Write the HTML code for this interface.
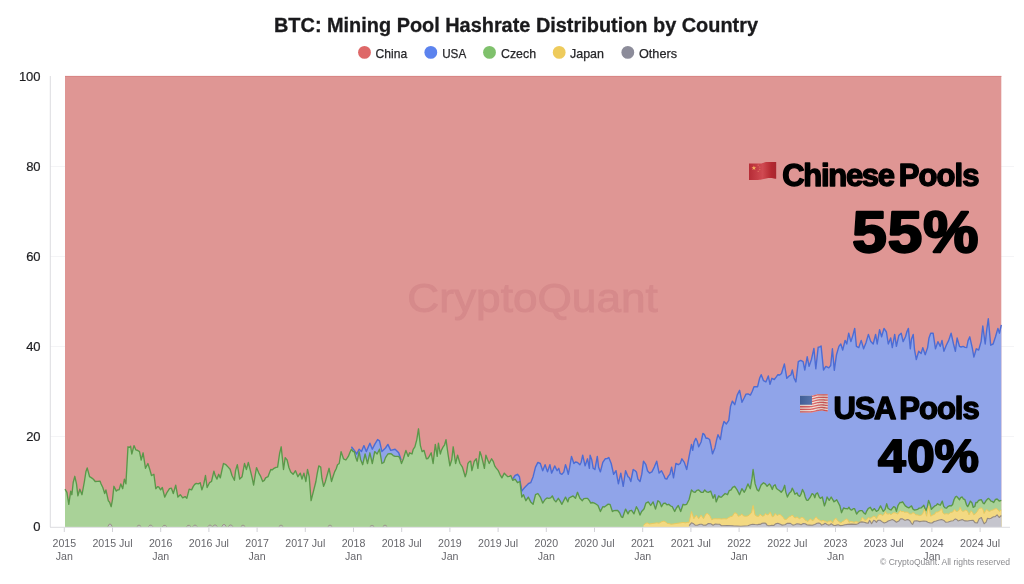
<!DOCTYPE html>
<html lang="en"><head><meta charset="utf-8"><title>BTC: Mining Pool Hashrate Distribution by Country</title>
<style>
html,body{margin:0;padding:0;background:#fff;}
body{width:1024px;height:584px;overflow:hidden;position:relative;font-family:"Liberation Sans",sans-serif;}
svg{position:absolute;left:0;top:0;display:block;}
text{font-family:"Liberation Sans",sans-serif;}
.title{font-weight:700;font-size:19.6px;fill:#1a1a1c;stroke:#1a1a1c;stroke-width:0.3px;}
.leg text{font-size:12.6px;fill:#262629;stroke:#262629;stroke-width:0.25px;}
.yl text{font-size:13px;fill:#1d1d20;stroke:#1d1d20;stroke-width:0.2px;}
.xl text{font-size:10.6px;fill:#66666b;}
.big{font-weight:700;fill:#000;stroke:#000;stroke-linejoin:round;}
</style></head><body>
<svg width="1024" height="584" viewBox="0 0 1024 584">
<rect width="1024" height="584" fill="#ffffff"/>
<text class="title" x="516" y="32.2" text-anchor="middle" textLength="484" lengthAdjust="spacingAndGlyphs">BTC: Mining Pool Hashrate Distribution by Country</text>
<g class="leg">
<circle cx="364.5" cy="52.4" r="6.4" fill="#de6868"/><text x="375.6" y="58" textLength="31.6" lengthAdjust="spacingAndGlyphs">China</text>
<circle cx="430.8" cy="52.4" r="6.4" fill="#5c83ee"/><text x="442.2" y="58" textLength="24" lengthAdjust="spacingAndGlyphs">USA</text>
<circle cx="489.5" cy="52.4" r="6.4" fill="#7fc16c"/><text x="501" y="58" textLength="35" lengthAdjust="spacingAndGlyphs">Czech</text>
<circle cx="559.2" cy="52.4" r="6.4" fill="#eecb5c"/><text x="570" y="58" textLength="34" lengthAdjust="spacingAndGlyphs">Japan</text>
<circle cx="627.8" cy="52.4" r="6.4" fill="#8c8c9a"/><text x="639" y="58" textLength="38" lengthAdjust="spacingAndGlyphs">Others</text>
</g>
<line x1="50" y1="436.5" x2="1014" y2="436.5" stroke="#f4f4f6" stroke-width="1"/><line x1="50" y1="346.5" x2="1014" y2="346.5" stroke="#f4f4f6" stroke-width="1"/><line x1="50" y1="256.5" x2="1014" y2="256.5" stroke="#f4f4f6" stroke-width="1"/><line x1="50" y1="166.5" x2="1014" y2="166.5" stroke="#f4f4f6" stroke-width="1"/>
<line x1="50.3" y1="76" x2="50.3" y2="527" stroke="#dcdce0" stroke-width="1"/>
<line x1="64.3" y1="527" x2="64.3" y2="532" stroke="#d2d2d7" stroke-width="1"/><line x1="112.5" y1="527" x2="112.5" y2="532" stroke="#d2d2d7" stroke-width="1"/><line x1="160.7" y1="527" x2="160.7" y2="532" stroke="#d2d2d7" stroke-width="1"/><line x1="208.9" y1="527" x2="208.9" y2="532" stroke="#d2d2d7" stroke-width="1"/><line x1="257.1" y1="527" x2="257.1" y2="532" stroke="#d2d2d7" stroke-width="1"/><line x1="305.3" y1="527" x2="305.3" y2="532" stroke="#d2d2d7" stroke-width="1"/><line x1="353.5" y1="527" x2="353.5" y2="532" stroke="#d2d2d7" stroke-width="1"/><line x1="401.7" y1="527" x2="401.7" y2="532" stroke="#d2d2d7" stroke-width="1"/><line x1="449.9" y1="527" x2="449.9" y2="532" stroke="#d2d2d7" stroke-width="1"/><line x1="498.1" y1="527" x2="498.1" y2="532" stroke="#d2d2d7" stroke-width="1"/><line x1="546.3" y1="527" x2="546.3" y2="532" stroke="#d2d2d7" stroke-width="1"/><line x1="594.5" y1="527" x2="594.5" y2="532" stroke="#d2d2d7" stroke-width="1"/><line x1="642.7" y1="527" x2="642.7" y2="532" stroke="#d2d2d7" stroke-width="1"/><line x1="690.9" y1="527" x2="690.9" y2="532" stroke="#d2d2d7" stroke-width="1"/><line x1="739.1" y1="527" x2="739.1" y2="532" stroke="#d2d2d7" stroke-width="1"/><line x1="787.3" y1="527" x2="787.3" y2="532" stroke="#d2d2d7" stroke-width="1"/><line x1="835.5" y1="527" x2="835.5" y2="532" stroke="#d2d2d7" stroke-width="1"/><line x1="883.7" y1="527" x2="883.7" y2="532" stroke="#d2d2d7" stroke-width="1"/><line x1="931.9" y1="527" x2="931.9" y2="532" stroke="#d2d2d7" stroke-width="1"/><line x1="980.1" y1="527" x2="980.1" y2="532" stroke="#d2d2d7" stroke-width="1"/>
<g class="yl"><text x="40.6" y="530.5" text-anchor="end">0</text><text x="40.6" y="440.5" text-anchor="end">20</text><text x="40.6" y="350.5" text-anchor="end">40</text><text x="40.6" y="260.5" text-anchor="end">60</text><text x="40.6" y="170.5" text-anchor="end">80</text><text x="40.6" y="80.5" text-anchor="end">100</text></g>
<g class="xl"><text x="64.3" y="547.3" text-anchor="middle">2015</text><text x="64.3" y="560.1" text-anchor="middle">Jan</text><text x="112.5" y="547.3" text-anchor="middle">2015 Jul</text><text x="160.7" y="547.3" text-anchor="middle">2016</text><text x="160.7" y="560.1" text-anchor="middle">Jan</text><text x="208.9" y="547.3" text-anchor="middle">2016 Jul</text><text x="257.1" y="547.3" text-anchor="middle">2017</text><text x="257.1" y="560.1" text-anchor="middle">Jan</text><text x="305.3" y="547.3" text-anchor="middle">2017 Jul</text><text x="353.5" y="547.3" text-anchor="middle">2018</text><text x="353.5" y="560.1" text-anchor="middle">Jan</text><text x="401.7" y="547.3" text-anchor="middle">2018 Jul</text><text x="449.9" y="547.3" text-anchor="middle">2019</text><text x="449.9" y="560.1" text-anchor="middle">Jan</text><text x="498.1" y="547.3" text-anchor="middle">2019 Jul</text><text x="546.3" y="547.3" text-anchor="middle">2020</text><text x="546.3" y="560.1" text-anchor="middle">Jan</text><text x="594.5" y="547.3" text-anchor="middle">2020 Jul</text><text x="642.7" y="547.3" text-anchor="middle">2021</text><text x="642.7" y="560.1" text-anchor="middle">Jan</text><text x="690.9" y="547.3" text-anchor="middle">2021 Jul</text><text x="739.1" y="547.3" text-anchor="middle">2022</text><text x="739.1" y="560.1" text-anchor="middle">Jan</text><text x="787.3" y="547.3" text-anchor="middle">2022 Jul</text><text x="835.5" y="547.3" text-anchor="middle">2023</text><text x="835.5" y="560.1" text-anchor="middle">Jan</text><text x="883.7" y="547.3" text-anchor="middle">2023 Jul</text><text x="931.9" y="547.3" text-anchor="middle">2024</text><text x="931.9" y="560.1" text-anchor="middle">Jan</text><text x="980.1" y="547.3" text-anchor="middle">2024 Jul</text></g>
<!-- plot -->
<rect x="65" y="76" width="936.3" height="451" fill="#df9694"/>
<line x1="65" y1="76.4" x2="1001.3" y2="76.4" stroke="#d78583" stroke-width="1"/>
<text x="532.6" y="311.5" text-anchor="middle" font-size="40" fill="#d68a8b" stroke="#d68a8b" stroke-width="0.9" textLength="250.5" lengthAdjust="spacingAndGlyphs">CryptoQuant</text>
<path d="M351.4,446.8 L354.3,450.4 L356.7,454.0 L359.1,449.2 L361.5,451.6 L363.9,445.6 L366.3,451.6 L369.9,443.2 L372.3,449.2 L374.7,444.4 L377.6,439.6 L379.5,440.8 L381.9,451.6 L385.5,448.0 L387.9,444.4 L390.7,450.4 L395.1,449.2 L398.7,452.8 L401.1,460.0 L401.1,462.0 L399.9,458.3 L398.7,456.4 L396.6,456.3 L395.1,456.4 L393.2,455.6 L391.5,454.0 L389.9,453.6 L387.9,454.0 L385.5,457.6 L383.8,462.5 L381.9,463.5 L379.5,449.2 L377.1,454.0 L374.7,451.6 L372.3,463.5 L369.9,452.8 L367.5,463.5 L365.1,454.0 L362.7,464.7 L360.6,459.5 L359.1,451.6 L357.2,461.2 L355.7,457.2 L354.3,451.6 L353.1,451.5 L351.4,449.2 L351.4,449.2 Z" fill="#90a4e9"/>
<path d="M351.4,446.8 L354.3,450.4 L356.7,454.0 L359.1,449.2 L361.5,451.6 L363.9,445.6 L366.3,451.6 L369.9,443.2 L372.3,449.2 L374.7,444.4 L377.6,439.6 L379.5,440.8 L381.9,451.6 L385.5,448.0 L387.9,444.4 L390.7,450.4 L395.1,449.2 L398.7,452.8 L401.1,460.0" fill="none" stroke="#4c6cd4" stroke-width="1.4" stroke-linejoin="round"/>
<path d="M512.7,479.1 L515.1,475.5 L517.5,474.3 L519.4,476.7 L521.8,491.1 L523.3,489.1 L524.7,487.5 L527.1,485.1 L528.6,483.5 L530.7,482.7 L533.1,476.7 L535.5,467.1 L537.9,462.4 L540.3,463.5 L542.7,470.7 L545.1,464.7 L547.5,471.9 L549.9,464.7 L551.6,473.1 L553.2,469.6 L554.7,465.9 L557.1,470.7 L558.8,468.3 L560.1,473.4 L561.9,474.3 L563.8,472.1 L565.5,464.7 L566.7,468.3 L568.3,474.3 L569.6,467.7 L571.5,456.4 L573.9,463.5 L575.5,462.0 L577.5,462.4 L579.9,464.7 L581.2,462.2 L582.7,455.2 L585.1,465.9 L587.5,458.8 L589.4,468.3 L590.1,455.2 L591.8,460.1 L593.2,468.3 L594.9,469.5 L597.3,456.4 L598.6,467.3 L600.4,471.9 L602.8,462.4 L605.2,458.8 L607.0,458.6 L608.8,457.6 L611.2,463.5 L613.6,474.3 L616.0,470.7 L618.4,483.9 L620.8,473.1 L623.2,486.3 L625.6,470.7 L628.0,476.7 L629.2,477.5 L630.8,481.5 L633.2,469.5 L634.9,470.5 L636.4,471.9 L637.9,479.1 L640.0,481.5 L641.8,474.2 L643.5,461.2 L645.9,464.7 L647.5,470.7 L649.5,473.1 L651.9,471.9 L654.3,467.1 L656.7,461.2 L659.1,473.1 L661.5,470.7 L663.9,475.5 L665.1,478.5 L666.8,479.1 L668.3,476.1 L669.9,474.3 L671.6,467.1 L673.5,477.9 L675.9,463.5 L678.3,464.7 L680.2,463.5 L681.9,458.8 L684.3,462.4 L686.7,469.5 L689.1,456.4 L691.5,444.4 L692.7,450.4 L694.1,442.0 L695.8,438.4 L697.3,441.3 L698.7,446.8 L701.1,442.0 L702.9,433.5 L703.5,433.6 L704.5,434.7 L706.0,438.3 L707.5,438.2 L709.6,439.5 L710.9,445.3 L712.5,453.9 L714.9,447.9 L716.6,439.9 L718.0,434.7 L720.4,439.5 L722.2,427.8 L724.0,421.5 L726.4,423.9 L728.8,420.3 L730.5,406.4 L732.4,401.1 L734.8,404.7 L737.2,395.1 L739.6,390.3 L742.0,402.3 L744.4,397.5 L746.0,394.1 L748.0,393.9 L750.4,395.1 L752.3,391.2 L754.0,386.7 L755.6,386.7 L757.6,386.7 L759.6,378.3 L761.2,374.7 L763.5,380.7 L765.9,381.9 L768.3,375.9 L770.0,384.3 L771.9,378.3 L774.3,379.5 L776.3,376.9 L777.9,374.7 L779.7,375.0 L781.5,373.5 L782.9,368.8 L784.4,364.0 L786.8,378.3 L789.2,375.9 L790.9,375.0 L792.3,370.0 L794.0,378.0 L795.9,381.9 L798.3,361.6 L800.7,360.4 L803.1,361.6 L804.8,370.0 L807.2,356.8 L809.1,366.4 L811.5,359.2 L813.9,348.4 L815.8,368.8 L818.2,347.2 L819.8,346.9 L821.1,346.0 L823.5,370.0 L825.9,366.4 L826.4,366.7 L828.8,367.9 L830.7,365.5 L832.4,348.8 L834.3,370.3 L836.5,354.7 L838.9,346.4 L840.8,344.0 L842.7,350.0 L845.1,340.4 L846.8,344.0 L848.7,333.2 L850.9,341.6 L852.8,335.6 L854.7,328.4 L856.4,346.4 L858.8,347.6 L861.2,340.4 L863.6,348.8 L866.0,342.8 L868.4,334.4 L870.8,341.6 L873.2,344.0 L875.6,334.4 L877.2,344.0 L879.6,329.6 L881.6,336.8 L884.0,328.4 L886.4,332.0 L888.3,344.0 L890.7,338.0 L892.3,347.6 L894.7,334.4 L896.4,346.4 L898.8,335.6 L901.2,333.2 L903.1,341.6 L905.5,336.8 L906.9,331.8 L908.4,328.4 L910.3,348.8 L911.5,338.9 L913.2,334.4 L914.5,349.6 L916.3,359.5 L918.7,351.2 L921.1,353.5 L922.8,347.6 L925.2,354.7 L927.6,347.6 L929.0,337.9 L930.7,333.2 L933.1,333.2 L935.5,348.8 L937.9,341.6 L940.3,346.4 L942.0,340.4 L943.9,351.2 L946.3,345.2 L948.7,340.4 L951.1,333.2 L953.5,344.0 L955.4,351.2 L957.1,338.0 L959.5,346.4 L961.0,347.0 L963.1,346.4 L965.1,347.4 L966.7,347.6 L968.1,340.6 L969.8,336.8 L972.2,347.6 L973.9,357.1 L976.3,348.8 L978.7,350.0 L981.1,341.6 L982.8,326.0 L985.2,344.0 L986.6,330.9 L988.3,318.8 L990.7,345.2 L993.1,344.0 L995.5,336.8 L997.9,328.4 L999.5,333.2 L1001.3,324.8 L1001.3,500.4 L1001.3,500.4 L999.2,501.1 L997.1,499.0 L995.5,499.3 L993.7,502.5 L992.1,501.4 L991.0,501.1 L989.6,499.3 L988.2,498.4 L986.0,500.8 L984.1,503.8 L983.0,502.9 L981.4,499.7 L979.9,500.0 L978.6,500.4 L977.1,502.6 L975.9,502.5 L974.8,506.5 L973.2,507.3 L971.9,502.7 L970.4,501.1 L968.8,504.7 L967.7,506.6 L966.5,504.8 L964.9,499.7 L963.3,498.8 L962.2,497.0 L960.6,497.6 L959.5,499.7 L957.9,497.8 L956.7,496.3 L955.5,496.9 L954.0,499.7 L952.6,504.6 L951.2,505.9 L949.8,505.7 L947.8,506.6 L946.6,508.1 L945.1,507.9 L943.7,506.4 L942.3,501.1 L940.3,505.2 L938.9,504.6 L937.5,503.8 L936.2,505.4 L934.8,505.9 L933.1,507.6 L931.4,509.3 L930.2,504.6 L928.6,500.4 L927.3,507.0 L925.9,510.7 L923.8,505.2 L922.6,506.6 L921.1,507.9 L919.2,508.1 L917.7,509.3 L915.7,509.8 L914.2,510.0 L912.9,508.9 L911.5,505.9 L910.0,507.0 L908.8,507.9 L907.2,507.1 L905.3,505.9 L903.8,503.7 L902.6,501.8 L900.9,502.7 L899.9,502.5 L898.1,505.3 L896.4,511.4 L895.1,507.3 L893.7,506.6 L892.3,508.4 L891.0,510.0 L889.5,509.3 L888.0,508.2 L886.7,503.8 L885.1,509.4 L883.3,511.4 L881.8,508.5 L880.5,505.9 L878.3,510.2 L876.4,511.4 L874.4,508.6 L872.3,510.7 L870.3,507.3 L868.2,508.6 L866.7,511.1 L865.5,514.1 L863.6,512.7 L862.1,510.7 L860.2,510.6 L858.6,511.4 L856.6,514.1 L854.5,508.6 L853.3,508.7 L851.8,510.0 L850.4,509.7 L849.0,507.3 L847.7,508.9 L846.3,508.6 L845.2,508.6 L843.6,507.9 L841.5,512.7 L839.9,505.9 L838.8,503.8 L836.7,499.7 L835.3,500.9 L834.0,501.8 L832.9,499.9 L831.2,497.0 L829.2,500.4 L827.1,497.0 L825.5,503.1 L824.4,505.9 L822.3,497.0 L820.3,498.4 L819.1,496.8 L817.5,492.9 L815.9,494.0 L814.8,497.7 L813.6,494.5 L812.1,493.6 L810.0,497.7 L807.9,500.4 L806.5,500.1 L805.2,497.0 L804.1,492.7 L802.5,489.5 L801.0,494.2 L799.7,496.3 L798.2,495.5 L797.0,492.9 L794.9,494.2 L793.7,491.1 L792.2,488.1 L791.1,491.5 L789.5,492.9 L787.4,497.0 L785.8,492.1 L784.7,485.3 L783.0,490.0 L781.2,492.2 L779.7,490.8 L777.8,489.5 L776.5,488.5 L775.1,484.7 L773.5,486.0 L772.3,489.5 L770.7,485.7 L769.4,483.9 L767.1,486.3 L765.5,484.1 L763.5,482.7 L761.1,485.1 L758.7,491.1 L757.1,489.7 L755.1,483.9 L753.1,469.5 L752.0,478.7 L750.3,488.7 L747.9,483.9 L745.9,489.1 L744.3,492.3 L741.9,488.7 L739.5,494.7 L737.1,489.9 L734.7,486.3 L732.6,487.4 L731.1,489.9 L729.2,490.7 L727.5,494.7 L725.1,493.5 L723.1,495.4 L721.5,497.1 L720.2,497.1 L718.6,495.9 L716.2,501.9 L714.8,494.7 L713.1,498.3 L710.7,491.1 L708.3,492.3 L706.7,491.9 L704.7,489.9 L703.1,492.4 L701.1,492.3 L698.7,489.9 L696.8,490.4 L695.1,492.3 L693.3,491.9 L691.5,489.9 L689.1,499.5 L686.7,504.3 L684.7,504.8 L683.1,504.3 L680.7,511.5 L678.3,505.5 L676.4,508.0 L674.7,511.5 L672.3,506.7 L670.7,506.0 L668.7,504.3 L666.9,504.8 L665.1,503.1 L663.4,503.5 L661.5,506.7 L659.8,502.3 L657.9,500.7 L655.5,509.1 L653.1,501.9 L650.7,505.5 L648.3,501.9 L645.9,503.1 L644.1,508.7 L642.8,510.3 L641.6,511.5 L640.0,515.1 L638.1,509.8 L636.4,506.7 L634.0,513.9 L631.6,510.3 L629.5,510.9 L628.0,513.9 L625.6,509.1 L624.1,513.2 L622.7,517.5 L621.3,516.8 L619.6,512.7 L617.7,510.5 L616.0,510.3 L614.0,510.6 L612.4,511.5 L610.0,504.3 L608.2,504.1 L606.4,505.5 L604.3,507.0 L602.8,506.7 L600.4,511.5 L598.0,505.5 L595.9,504.0 L594.4,503.1 L592.3,502.5 L590.8,503.1 L589.4,500.7 L587.6,498.3 L585.9,498.3 L583.9,498.6 L582.3,500.7 L579.9,498.3 L577.5,492.3 L575.5,498.3 L573.1,495.9 L570.7,497.1 L569.0,498.0 L567.9,501.9 L565.5,497.1 L563.4,501.3 L561.9,504.3 L560.0,500.9 L558.3,498.3 L555.9,501.9 L554.3,500.1 L552.3,495.9 L550.7,497.9 L548.7,498.3 L547.0,497.9 L545.1,499.5 L542.7,503.1 L540.3,497.1 L537.9,493.5 L535.5,494.7 L533.1,504.3 L530.7,501.9 L528.3,497.1 L525.9,500.7 L523.5,494.7 L521.8,497.1 L519.9,481.5 L517.5,482.7 L515.1,479.1 L512.7,480.3 L512.7,480.3 Z" fill="#90a4e9"/>
<path d="M512.7,479.1 L515.1,475.5 L517.5,474.3 L519.4,476.7 L521.8,491.1 L523.3,489.1 L524.7,487.5 L527.1,485.1 L528.6,483.5 L530.7,482.7 L533.1,476.7 L535.5,467.1 L537.9,462.4 L540.3,463.5 L542.7,470.7 L545.1,464.7 L547.5,471.9 L549.9,464.7 L551.6,473.1 L553.2,469.6 L554.7,465.9 L557.1,470.7 L558.8,468.3 L560.1,473.4 L561.9,474.3 L563.8,472.1 L565.5,464.7 L566.7,468.3 L568.3,474.3 L569.6,467.7 L571.5,456.4 L573.9,463.5 L575.5,462.0 L577.5,462.4 L579.9,464.7 L581.2,462.2 L582.7,455.2 L585.1,465.9 L587.5,458.8 L589.4,468.3 L590.1,455.2 L591.8,460.1 L593.2,468.3 L594.9,469.5 L597.3,456.4 L598.6,467.3 L600.4,471.9 L602.8,462.4 L605.2,458.8 L607.0,458.6 L608.8,457.6 L611.2,463.5 L613.6,474.3 L616.0,470.7 L618.4,483.9 L620.8,473.1 L623.2,486.3 L625.6,470.7 L628.0,476.7 L629.2,477.5 L630.8,481.5 L633.2,469.5 L634.9,470.5 L636.4,471.9 L637.9,479.1 L640.0,481.5 L641.8,474.2 L643.5,461.2 L645.9,464.7 L647.5,470.7 L649.5,473.1 L651.9,471.9 L654.3,467.1 L656.7,461.2 L659.1,473.1 L661.5,470.7 L663.9,475.5 L665.1,478.5 L666.8,479.1 L668.3,476.1 L669.9,474.3 L671.6,467.1 L673.5,477.9 L675.9,463.5 L678.3,464.7 L680.2,463.5 L681.9,458.8 L684.3,462.4 L686.7,469.5 L689.1,456.4 L691.5,444.4 L692.7,450.4 L694.1,442.0 L695.8,438.4 L697.3,441.3 L698.7,446.8 L701.1,442.0 L702.9,433.5 L703.5,433.6 L704.5,434.7 L706.0,438.3 L707.5,438.2 L709.6,439.5 L710.9,445.3 L712.5,453.9 L714.9,447.9 L716.6,439.9 L718.0,434.7 L720.4,439.5 L722.2,427.8 L724.0,421.5 L726.4,423.9 L728.8,420.3 L730.5,406.4 L732.4,401.1 L734.8,404.7 L737.2,395.1 L739.6,390.3 L742.0,402.3 L744.4,397.5 L746.0,394.1 L748.0,393.9 L750.4,395.1 L752.3,391.2 L754.0,386.7 L755.6,386.7 L757.6,386.7 L759.6,378.3 L761.2,374.7 L763.5,380.7 L765.9,381.9 L768.3,375.9 L770.0,384.3 L771.9,378.3 L774.3,379.5 L776.3,376.9 L777.9,374.7 L779.7,375.0 L781.5,373.5 L782.9,368.8 L784.4,364.0 L786.8,378.3 L789.2,375.9 L790.9,375.0 L792.3,370.0 L794.0,378.0 L795.9,381.9 L798.3,361.6 L800.7,360.4 L803.1,361.6 L804.8,370.0 L807.2,356.8 L809.1,366.4 L811.5,359.2 L813.9,348.4 L815.8,368.8 L818.2,347.2 L819.8,346.9 L821.1,346.0 L823.5,370.0 L825.9,366.4 L826.4,366.7 L828.8,367.9 L830.7,365.5 L832.4,348.8 L834.3,370.3 L836.5,354.7 L838.9,346.4 L840.8,344.0 L842.7,350.0 L845.1,340.4 L846.8,344.0 L848.7,333.2 L850.9,341.6 L852.8,335.6 L854.7,328.4 L856.4,346.4 L858.8,347.6 L861.2,340.4 L863.6,348.8 L866.0,342.8 L868.4,334.4 L870.8,341.6 L873.2,344.0 L875.6,334.4 L877.2,344.0 L879.6,329.6 L881.6,336.8 L884.0,328.4 L886.4,332.0 L888.3,344.0 L890.7,338.0 L892.3,347.6 L894.7,334.4 L896.4,346.4 L898.8,335.6 L901.2,333.2 L903.1,341.6 L905.5,336.8 L906.9,331.8 L908.4,328.4 L910.3,348.8 L911.5,338.9 L913.2,334.4 L914.5,349.6 L916.3,359.5 L918.7,351.2 L921.1,353.5 L922.8,347.6 L925.2,354.7 L927.6,347.6 L929.0,337.9 L930.7,333.2 L933.1,333.2 L935.5,348.8 L937.9,341.6 L940.3,346.4 L942.0,340.4 L943.9,351.2 L946.3,345.2 L948.7,340.4 L951.1,333.2 L953.5,344.0 L955.4,351.2 L957.1,338.0 L959.5,346.4 L961.0,347.0 L963.1,346.4 L965.1,347.4 L966.7,347.6 L968.1,340.6 L969.8,336.8 L972.2,347.6 L973.9,357.1 L976.3,348.8 L978.7,350.0 L981.1,341.6 L982.8,326.0 L985.2,344.0 L986.6,330.9 L988.3,318.8 L990.7,345.2 L993.1,344.0 L995.5,336.8 L997.9,328.4 L999.5,333.2 L1001.3,324.8" fill="none" stroke="#4c6cd4" stroke-width="1.4" stroke-linejoin="round"/>
<path d="M65.0,489.2 L66.9,492.3 L68.8,504.3 L70.7,491.1 L71.9,494.7 L73.2,482.5 L74.8,476.3 L76.5,483.9 L77.9,495.9 L79.8,489.2 L82.0,494.7 L84.4,481.5 L85.9,471.8 L87.2,467.9 L89.6,476.7 L91.6,477.9 L93.4,479.3 L95.2,481.5 L97.3,481.3 L100.0,481.1 L101.1,484.0 L102.8,487.5 L104.7,493.5 L105.9,489.9 L108.3,500.7 L109.5,502.1 L111.2,506.7 L112.5,499.5 L113.9,486.3 L116.3,491.1 L117.5,489.9 L119.1,489.9 L120.8,483.9 L122.7,488.7 L124.4,479.1 L125.9,483.9 L128.0,446.8 L129.4,447.4 L130.6,446.3 L131.8,454.0 L134.0,445.6 L135.9,449.9 L137.8,450.5 L139.5,451.6 L141.2,460.0 L143.1,452.8 L145.5,468.3 L147.9,463.5 L149.8,469.5 L151.5,475.5 L153.9,474.3 L155.8,488.7 L157.6,486.6 L158.7,486.8 L160.6,489.9 L162.3,487.5 L164.7,497.1 L167.1,492.3 L169.5,488.7 L171.4,488.2 L173.3,493.5 L175.7,485.1 L177.9,497.1 L180.3,494.7 L182.7,497.8 L185.1,496.6 L186.8,498.3 L189.2,489.2 L191.6,489.9 L193.3,486.4 L194.7,484.4 L196.3,483.4 L198.3,483.9 L200.2,482.7 L201.9,489.9 L203.6,484.9 L205.5,475.5 L207.1,487.5 L209.5,482.7 L211.5,481.5 L213.9,471.2 L215.2,475.6 L217.0,479.1 L218.7,474.3 L220.3,477.9 L222.0,469.9 L223.5,463.5 L225.9,464.7 L228.2,467.1 L230.1,469.2 L232.0,475.5 L234.4,480.3 L235.6,470.4 L237.3,464.7 L239.7,479.1 L242.1,476.7 L244.5,463.5 L246.4,469.5 L248.3,462.4 L250.7,471.9 L252.2,478.1 L253.6,485.1 L254.9,477.1 L256.5,467.6 L258.8,473.1 L260.7,476.4 L262.7,481.5 L264.3,480.4 L265.6,477.9 L268.0,476.7 L269.2,473.5 L270.8,469.5 L272.4,469.8 L274.0,468.3 L275.9,467.3 L277.6,467.1 L279.6,453.5 L281.2,446.8 L283.5,469.5 L285.2,457.6 L287.1,460.0 L288.9,467.5 L290.7,471.9 L293.1,474.3 L295.5,470.7 L297.9,476.7 L300.3,473.1 L302.0,479.1 L303.9,473.1 L305.9,481.5 L307.5,469.5 L309.2,476.7 L311.1,500.7 L313.5,491.1 L315.9,481.5 L317.2,473.7 L318.8,465.9 L320.7,467.1 L321.9,478.2 L323.6,486.3 L325.3,481.9 L326.7,476.7 L329.1,468.3 L331.5,481.5 L333.3,475.8 L334.6,471.9 L336.2,468.8 L337.5,464.7 L339.2,463.5 L341.1,451.6 L343.5,458.8 L345.9,460.0 L348.3,456.4 L349.9,452.6 L351.4,449.2 L353.1,451.5 L354.3,451.6 L355.7,457.2 L357.2,461.2 L359.1,451.6 L360.6,459.5 L362.7,464.7 L365.1,454.0 L367.5,463.5 L369.9,452.8 L372.3,463.5 L374.7,451.6 L377.1,454.0 L379.5,449.2 L381.9,463.5 L383.8,462.5 L385.5,457.6 L387.9,454.0 L389.9,453.6 L391.5,454.0 L393.2,455.6 L395.1,456.4 L396.6,456.3 L398.7,456.4 L399.9,458.3 L401.5,463.5 L403.4,458.7 L405.9,450.4 L408.2,456.4 L409.6,452.8 L412.0,454.0 L413.2,449.3 L414.9,446.8 L416.8,439.6 L418.5,428.8 L420.4,445.6 L422.1,451.6 L424.0,450.4 L426.4,458.8 L427.8,458.5 L429.3,456.4 L431.2,452.8 L433.1,463.5 L435.3,444.4 L437.2,456.4 L438.4,443.2 L440.3,454.0 L441.5,450.1 L443.2,446.8 L444.6,444.8 L446.0,439.6 L448.0,454.0 L449.9,465.9 L451.8,459.5 L453.2,446.8 L455.6,463.5 L457.6,455.2 L460.0,463.5 L462.4,467.1 L463.7,471.5 L465.2,476.7 L466.5,472.7 L467.9,463.5 L469.6,461.4 L470.7,461.2 L471.9,470.7 L474.3,461.2 L476.3,458.8 L477.9,468.3 L479.9,451.6 L481.1,454.9 L482.7,461.2 L484.4,468.3 L485.9,455.2 L487.4,459.3 L489.2,463.5 L491.6,458.8 L493.2,461.3 L494.7,465.9 L496.2,468.1 L498.3,470.7 L500.0,474.6 L501.9,477.9 L504.3,473.1 L506.4,475.5 L507.9,476.7 L509.4,476.4 L510.8,475.5 L512.7,480.3 L515.1,479.1 L517.5,482.7 L519.9,481.5 L521.8,497.1 L523.5,494.7 L525.9,500.7 L528.3,497.1 L530.7,501.9 L533.1,504.3 L535.5,494.7 L537.9,493.5 L540.3,497.1 L542.7,503.1 L545.1,499.5 L547.0,497.9 L548.7,498.3 L550.7,497.9 L552.3,495.9 L554.3,500.1 L555.9,501.9 L558.3,498.3 L560.0,500.9 L561.9,504.3 L563.4,501.3 L565.5,497.1 L567.9,501.9 L569.0,498.0 L570.7,497.1 L573.1,495.9 L575.5,498.3 L577.5,492.3 L579.9,498.3 L582.3,500.7 L583.9,498.6 L585.9,498.3 L587.6,498.3 L589.4,500.7 L590.8,503.1 L592.3,502.5 L594.4,503.1 L595.9,504.0 L598.0,505.5 L600.4,511.5 L602.8,506.7 L604.3,507.0 L606.4,505.5 L608.2,504.1 L610.0,504.3 L612.4,511.5 L614.0,510.6 L616.0,510.3 L617.7,510.5 L619.6,512.7 L621.3,516.8 L622.7,517.5 L624.1,513.2 L625.6,509.1 L628.0,513.9 L629.5,510.9 L631.6,510.3 L634.0,513.9 L636.4,506.7 L638.1,509.8 L640.0,515.1 L641.6,511.5 L642.8,510.3 L644.1,508.7 L645.9,503.1 L648.3,501.9 L650.7,505.5 L653.1,501.9 L655.5,509.1 L657.9,500.7 L659.8,502.3 L661.5,506.7 L663.4,503.5 L665.1,503.1 L666.9,504.8 L668.7,504.3 L670.7,506.0 L672.3,506.7 L674.7,511.5 L676.4,508.0 L678.3,505.5 L680.7,511.5 L683.1,504.3 L684.7,504.8 L686.7,504.3 L689.1,499.5 L691.5,489.9 L693.3,491.9 L695.1,492.3 L696.8,490.4 L698.7,489.9 L701.1,492.3 L703.1,492.4 L704.7,489.9 L706.7,491.9 L708.3,492.3 L710.7,491.1 L713.1,498.3 L714.8,494.7 L716.2,501.9 L718.6,495.9 L720.2,497.1 L721.5,497.1 L723.1,495.4 L725.1,493.5 L727.5,494.7 L729.2,490.7 L731.1,489.9 L732.6,487.4 L734.7,486.3 L737.1,489.9 L739.5,494.7 L741.9,488.7 L744.3,492.3 L745.9,489.1 L747.9,483.9 L750.3,488.7 L752.0,478.7 L753.1,469.5 L755.1,483.9 L757.1,489.7 L758.7,491.1 L761.1,485.1 L763.5,482.7 L765.5,484.1 L767.1,486.3 L769.4,483.9 L770.7,485.7 L772.3,489.5 L773.5,486.0 L775.1,484.7 L776.5,488.5 L777.8,489.5 L779.7,490.8 L781.2,492.2 L783.0,490.0 L784.7,485.3 L785.8,492.1 L787.4,497.0 L789.5,492.9 L791.1,491.5 L792.2,488.1 L793.7,491.1 L794.9,494.2 L797.0,492.9 L798.2,495.5 L799.7,496.3 L801.0,494.2 L802.5,489.5 L804.1,492.7 L805.2,497.0 L806.5,500.1 L807.9,500.4 L810.0,497.7 L812.1,493.6 L813.6,494.5 L814.8,497.7 L815.9,494.0 L817.5,492.9 L819.1,496.8 L820.3,498.4 L822.3,497.0 L824.4,505.9 L825.5,503.1 L827.1,497.0 L829.2,500.4 L831.2,497.0 L832.9,499.9 L834.0,501.8 L835.3,500.9 L836.7,499.7 L838.8,503.8 L839.9,505.9 L841.5,512.7 L843.6,507.9 L845.2,508.6 L846.3,508.6 L847.7,508.9 L849.0,507.3 L850.4,509.7 L851.8,510.0 L853.3,508.7 L854.5,508.6 L856.6,514.1 L858.6,511.4 L860.2,510.6 L862.1,510.7 L863.6,512.7 L865.5,514.1 L866.7,511.1 L868.2,508.6 L870.3,507.3 L872.3,510.7 L874.4,508.6 L876.4,511.4 L878.3,510.2 L880.5,505.9 L881.8,508.5 L883.3,511.4 L885.1,509.4 L886.7,503.8 L888.0,508.2 L889.5,509.3 L891.0,510.0 L892.3,508.4 L893.7,506.6 L895.1,507.3 L896.4,511.4 L898.1,505.3 L899.9,502.5 L900.9,502.7 L902.6,501.8 L903.8,503.7 L905.3,505.9 L907.2,507.1 L908.8,507.9 L910.0,507.0 L911.5,505.9 L912.9,508.9 L914.2,510.0 L915.7,509.8 L917.7,509.3 L919.2,508.1 L921.1,507.9 L922.6,506.6 L923.8,505.2 L925.9,510.7 L927.3,507.0 L928.6,500.4 L930.2,504.6 L931.4,509.3 L933.1,507.6 L934.8,505.9 L936.2,505.4 L937.5,503.8 L938.9,504.6 L940.3,505.2 L942.3,501.1 L943.7,506.4 L945.1,507.9 L946.6,508.1 L947.8,506.6 L949.8,505.7 L951.2,505.9 L952.6,504.6 L954.0,499.7 L955.5,496.9 L956.7,496.3 L957.9,497.8 L959.5,499.7 L960.6,497.6 L962.2,497.0 L963.3,498.8 L964.9,499.7 L966.5,504.8 L967.7,506.6 L968.8,504.7 L970.4,501.1 L971.9,502.7 L973.2,507.3 L974.8,506.5 L975.9,502.5 L977.1,502.6 L978.6,500.4 L979.9,500.0 L981.4,499.7 L983.0,502.9 L984.1,503.8 L986.0,500.8 L988.2,498.4 L989.6,499.3 L991.0,501.1 L992.1,501.4 L993.7,502.5 L995.5,499.3 L997.1,499.0 L999.2,501.1 L1001.3,500.4 L1001.3,527.0 L65.0,527.0 Z" fill="#a9d298"/>
<path d="M65.0,489.2 L66.9,492.3 L68.8,504.3 L70.7,491.1 L71.9,494.7 L73.2,482.5 L74.8,476.3 L76.5,483.9 L77.9,495.9 L79.8,489.2 L82.0,494.7 L84.4,481.5 L85.9,471.8 L87.2,467.9 L89.6,476.7 L91.6,477.9 L93.4,479.3 L95.2,481.5 L97.3,481.3 L100.0,481.1 L101.1,484.0 L102.8,487.5 L104.7,493.5 L105.9,489.9 L108.3,500.7 L109.5,502.1 L111.2,506.7 L112.5,499.5 L113.9,486.3 L116.3,491.1 L117.5,489.9 L119.1,489.9 L120.8,483.9 L122.7,488.7 L124.4,479.1 L125.9,483.9 L128.0,446.8 L129.4,447.4 L130.6,446.3 L131.8,454.0 L134.0,445.6 L135.9,449.9 L137.8,450.5 L139.5,451.6 L141.2,460.0 L143.1,452.8 L145.5,468.3 L147.9,463.5 L149.8,469.5 L151.5,475.5 L153.9,474.3 L155.8,488.7 L157.6,486.6 L158.7,486.8 L160.6,489.9 L162.3,487.5 L164.7,497.1 L167.1,492.3 L169.5,488.7 L171.4,488.2 L173.3,493.5 L175.7,485.1 L177.9,497.1 L180.3,494.7 L182.7,497.8 L185.1,496.6 L186.8,498.3 L189.2,489.2 L191.6,489.9 L193.3,486.4 L194.7,484.4 L196.3,483.4 L198.3,483.9 L200.2,482.7 L201.9,489.9 L203.6,484.9 L205.5,475.5 L207.1,487.5 L209.5,482.7 L211.5,481.5 L213.9,471.2 L215.2,475.6 L217.0,479.1 L218.7,474.3 L220.3,477.9 L222.0,469.9 L223.5,463.5 L225.9,464.7 L228.2,467.1 L230.1,469.2 L232.0,475.5 L234.4,480.3 L235.6,470.4 L237.3,464.7 L239.7,479.1 L242.1,476.7 L244.5,463.5 L246.4,469.5 L248.3,462.4 L250.7,471.9 L252.2,478.1 L253.6,485.1 L254.9,477.1 L256.5,467.6 L258.8,473.1 L260.7,476.4 L262.7,481.5 L264.3,480.4 L265.6,477.9 L268.0,476.7 L269.2,473.5 L270.8,469.5 L272.4,469.8 L274.0,468.3 L275.9,467.3 L277.6,467.1 L279.6,453.5 L281.2,446.8 L283.5,469.5 L285.2,457.6 L287.1,460.0 L288.9,467.5 L290.7,471.9 L293.1,474.3 L295.5,470.7 L297.9,476.7 L300.3,473.1 L302.0,479.1 L303.9,473.1 L305.9,481.5 L307.5,469.5 L309.2,476.7 L311.1,500.7 L313.5,491.1 L315.9,481.5 L317.2,473.7 L318.8,465.9 L320.7,467.1 L321.9,478.2 L323.6,486.3 L325.3,481.9 L326.7,476.7 L329.1,468.3 L331.5,481.5 L333.3,475.8 L334.6,471.9 L336.2,468.8 L337.5,464.7 L339.2,463.5 L341.1,451.6 L343.5,458.8 L345.9,460.0 L348.3,456.4 L349.9,452.6 L351.4,449.2 L353.1,451.5 L354.3,451.6 L355.7,457.2 L357.2,461.2 L359.1,451.6 L360.6,459.5 L362.7,464.7 L365.1,454.0 L367.5,463.5 L369.9,452.8 L372.3,463.5 L374.7,451.6 L377.1,454.0 L379.5,449.2 L381.9,463.5 L383.8,462.5 L385.5,457.6 L387.9,454.0 L389.9,453.6 L391.5,454.0 L393.2,455.6 L395.1,456.4 L396.6,456.3 L398.7,456.4 L399.9,458.3 L401.5,463.5 L403.4,458.7 L405.9,450.4 L408.2,456.4 L409.6,452.8 L412.0,454.0 L413.2,449.3 L414.9,446.8 L416.8,439.6 L418.5,428.8 L420.4,445.6 L422.1,451.6 L424.0,450.4 L426.4,458.8 L427.8,458.5 L429.3,456.4 L431.2,452.8 L433.1,463.5 L435.3,444.4 L437.2,456.4 L438.4,443.2 L440.3,454.0 L441.5,450.1 L443.2,446.8 L444.6,444.8 L446.0,439.6 L448.0,454.0 L449.9,465.9 L451.8,459.5 L453.2,446.8 L455.6,463.5 L457.6,455.2 L460.0,463.5 L462.4,467.1 L463.7,471.5 L465.2,476.7 L466.5,472.7 L467.9,463.5 L469.6,461.4 L470.7,461.2 L471.9,470.7 L474.3,461.2 L476.3,458.8 L477.9,468.3 L479.9,451.6 L481.1,454.9 L482.7,461.2 L484.4,468.3 L485.9,455.2 L487.4,459.3 L489.2,463.5 L491.6,458.8 L493.2,461.3 L494.7,465.9 L496.2,468.1 L498.3,470.7 L500.0,474.6 L501.9,477.9 L504.3,473.1 L506.4,475.5 L507.9,476.7 L509.4,476.4 L510.8,475.5 L512.7,480.3 L515.1,479.1 L517.5,482.7 L519.9,481.5 L521.8,497.1 L523.5,494.7 L525.9,500.7 L528.3,497.1 L530.7,501.9 L533.1,504.3 L535.5,494.7 L537.9,493.5 L540.3,497.1 L542.7,503.1 L545.1,499.5 L547.0,497.9 L548.7,498.3 L550.7,497.9 L552.3,495.9 L554.3,500.1 L555.9,501.9 L558.3,498.3 L560.0,500.9 L561.9,504.3 L563.4,501.3 L565.5,497.1 L567.9,501.9 L569.0,498.0 L570.7,497.1 L573.1,495.9 L575.5,498.3 L577.5,492.3 L579.9,498.3 L582.3,500.7 L583.9,498.6 L585.9,498.3 L587.6,498.3 L589.4,500.7 L590.8,503.1 L592.3,502.5 L594.4,503.1 L595.9,504.0 L598.0,505.5 L600.4,511.5 L602.8,506.7 L604.3,507.0 L606.4,505.5 L608.2,504.1 L610.0,504.3 L612.4,511.5 L614.0,510.6 L616.0,510.3 L617.7,510.5 L619.6,512.7 L621.3,516.8 L622.7,517.5 L624.1,513.2 L625.6,509.1 L628.0,513.9 L629.5,510.9 L631.6,510.3 L634.0,513.9 L636.4,506.7 L638.1,509.8 L640.0,515.1 L641.6,511.5 L642.8,510.3 L644.1,508.7 L645.9,503.1 L648.3,501.9 L650.7,505.5 L653.1,501.9 L655.5,509.1 L657.9,500.7 L659.8,502.3 L661.5,506.7 L663.4,503.5 L665.1,503.1 L666.9,504.8 L668.7,504.3 L670.7,506.0 L672.3,506.7 L674.7,511.5 L676.4,508.0 L678.3,505.5 L680.7,511.5 L683.1,504.3 L684.7,504.8 L686.7,504.3 L689.1,499.5 L691.5,489.9 L693.3,491.9 L695.1,492.3 L696.8,490.4 L698.7,489.9 L701.1,492.3 L703.1,492.4 L704.7,489.9 L706.7,491.9 L708.3,492.3 L710.7,491.1 L713.1,498.3 L714.8,494.7 L716.2,501.9 L718.6,495.9 L720.2,497.1 L721.5,497.1 L723.1,495.4 L725.1,493.5 L727.5,494.7 L729.2,490.7 L731.1,489.9 L732.6,487.4 L734.7,486.3 L737.1,489.9 L739.5,494.7 L741.9,488.7 L744.3,492.3 L745.9,489.1 L747.9,483.9 L750.3,488.7 L752.0,478.7 L753.1,469.5 L755.1,483.9 L757.1,489.7 L758.7,491.1 L761.1,485.1 L763.5,482.7 L765.5,484.1 L767.1,486.3 L769.4,483.9 L770.7,485.7 L772.3,489.5 L773.5,486.0 L775.1,484.7 L776.5,488.5 L777.8,489.5 L779.7,490.8 L781.2,492.2 L783.0,490.0 L784.7,485.3 L785.8,492.1 L787.4,497.0 L789.5,492.9 L791.1,491.5 L792.2,488.1 L793.7,491.1 L794.9,494.2 L797.0,492.9 L798.2,495.5 L799.7,496.3 L801.0,494.2 L802.5,489.5 L804.1,492.7 L805.2,497.0 L806.5,500.1 L807.9,500.4 L810.0,497.7 L812.1,493.6 L813.6,494.5 L814.8,497.7 L815.9,494.0 L817.5,492.9 L819.1,496.8 L820.3,498.4 L822.3,497.0 L824.4,505.9 L825.5,503.1 L827.1,497.0 L829.2,500.4 L831.2,497.0 L832.9,499.9 L834.0,501.8 L835.3,500.9 L836.7,499.7 L838.8,503.8 L839.9,505.9 L841.5,512.7 L843.6,507.9 L845.2,508.6 L846.3,508.6 L847.7,508.9 L849.0,507.3 L850.4,509.7 L851.8,510.0 L853.3,508.7 L854.5,508.6 L856.6,514.1 L858.6,511.4 L860.2,510.6 L862.1,510.7 L863.6,512.7 L865.5,514.1 L866.7,511.1 L868.2,508.6 L870.3,507.3 L872.3,510.7 L874.4,508.6 L876.4,511.4 L878.3,510.2 L880.5,505.9 L881.8,508.5 L883.3,511.4 L885.1,509.4 L886.7,503.8 L888.0,508.2 L889.5,509.3 L891.0,510.0 L892.3,508.4 L893.7,506.6 L895.1,507.3 L896.4,511.4 L898.1,505.3 L899.9,502.5 L900.9,502.7 L902.6,501.8 L903.8,503.7 L905.3,505.9 L907.2,507.1 L908.8,507.9 L910.0,507.0 L911.5,505.9 L912.9,508.9 L914.2,510.0 L915.7,509.8 L917.7,509.3 L919.2,508.1 L921.1,507.9 L922.6,506.6 L923.8,505.2 L925.9,510.7 L927.3,507.0 L928.6,500.4 L930.2,504.6 L931.4,509.3 L933.1,507.6 L934.8,505.9 L936.2,505.4 L937.5,503.8 L938.9,504.6 L940.3,505.2 L942.3,501.1 L943.7,506.4 L945.1,507.9 L946.6,508.1 L947.8,506.6 L949.8,505.7 L951.2,505.9 L952.6,504.6 L954.0,499.7 L955.5,496.9 L956.7,496.3 L957.9,497.8 L959.5,499.7 L960.6,497.6 L962.2,497.0 L963.3,498.8 L964.9,499.7 L966.5,504.8 L967.7,506.6 L968.8,504.7 L970.4,501.1 L971.9,502.7 L973.2,507.3 L974.8,506.5 L975.9,502.5 L977.1,502.6 L978.6,500.4 L979.9,500.0 L981.4,499.7 L983.0,502.9 L984.1,503.8 L986.0,500.8 L988.2,498.4 L989.6,499.3 L991.0,501.1 L992.1,501.4 L993.7,502.5 L995.5,499.3 L997.1,499.0 L999.2,501.1 L1001.3,500.4" fill="none" stroke="#5a9849" stroke-width="1.35" stroke-linejoin="round"/>
<path d="M643.5,525.2 L645.1,523.8 L647.1,522.8 L649.4,524.0 L651.9,523.5 L654.6,523.2 L656.7,522.8 L659.0,523.2 L661.5,521.8 L663.9,521.1 L665.6,521.9 L667.5,523.5 L669.0,523.6 L671.1,524.2 L673.5,523.9 L675.9,523.5 L678.1,523.2 L680.7,522.8 L682.8,522.4 L685.5,522.8 L687.1,522.4 L689.1,522.3 L691.5,511.5 L693.9,518.7 L696.3,515.1 L698.7,518.7 L701.1,515.1 L703.5,518.7 L705.9,513.9 L707.4,513.5 L709.5,515.1 L711.9,519.9 L713.6,518.8 L715.5,518.7 L717.3,518.8 L719.1,518.7 L721.6,519.0 L723.9,518.7 L726.4,518.9 L728.7,517.5 L730.4,516.6 L732.3,516.3 L734.7,512.7 L736.8,513.5 L738.3,516.3 L740.2,515.5 L741.9,513.9 L743.4,515.9 L745.5,516.3 L747.5,516.0 L749.1,515.1 L751.5,512.7 L753.1,505.5 L755.1,515.1 L757.0,516.3 L758.7,516.3 L760.0,514.1 L761.2,515.2 L762.7,516.2 L764.1,515.7 L765.5,513.4 L767.0,514.8 L768.2,514.8 L770.3,512.1 L772.3,516.8 L773.7,516.2 L775.1,513.4 L776.5,514.9 L777.8,515.5 L779.0,514.3 L780.5,514.8 L781.7,515.8 L783.3,517.5 L784.4,519.3 L786.0,519.6 L787.4,518.5 L788.8,516.8 L790.2,516.5 L791.5,515.5 L792.9,515.3 L794.2,517.5 L795.8,517.7 L797.0,516.8 L798.4,518.0 L799.7,518.9 L801.2,517.3 L802.5,517.5 L804.0,518.3 L805.2,520.3 L806.3,520.5 L807.9,521.6 L809.5,519.5 L810.7,518.9 L812.2,520.6 L813.4,520.3 L814.8,518.2 L816.2,516.8 L817.5,518.7 L818.9,519.6 L820.4,520.5 L821.6,521.0 L823.1,520.3 L824.4,521.0 L825.5,521.1 L827.1,522.3 L828.6,521.2 L829.9,521.0 L831.3,520.8 L832.6,523.0 L834.1,519.8 L836.0,518.2 L837.5,520.5 L838.8,521.6 L840.8,523.0 L842.3,521.5 L843.6,521.0 L844.9,519.8 L846.3,518.9 L847.7,519.5 L849.0,522.3 L850.6,521.4 L851.8,521.6 L854.1,522.3 L855.9,521.6 L857.0,521.9 L858.6,522.3 L860.5,521.5 L862.1,517.5 L863.4,518.3 L864.8,520.3 L866.3,520.1 L868.2,517.5 L869.4,518.0 L871.0,518.2 L872.1,517.2 L873.7,516.2 L875.3,516.6 L876.4,518.9 L878.5,514.8 L880.0,514.1 L881.6,514.8 L882.7,515.5 L884.3,514.1 L885.5,511.4 L886.7,513.8 L888.2,514.1 L889.6,513.6 L891.0,514.8 L892.0,513.7 L893.7,512.7 L895.7,513.0 L897.8,514.1 L899.0,512.0 L900.5,510.7 L901.8,511.7 L903.3,511.4 L904.4,512.2 L906.0,512.1 L907.9,512.2 L909.5,514.1 L911.4,513.9 L912.9,512.7 L914.5,513.3 L915.6,514.8 L917.6,514.9 L919.7,515.5 L921.4,515.0 L922.5,514.1 L924.5,509.3 L926.6,516.2 L928.6,505.9 L930.7,516.2 L932.7,515.0 L934.8,514.1 L936.0,512.0 L937.5,512.1 L939.4,511.3 L941.6,508.6 L942.9,512.9 L944.4,514.1 L946.3,513.7 L948.5,514.1 L950.6,512.4 L952.6,512.1 L954.7,509.3 L956.0,511.4 L957.4,511.4 L959.0,510.3 L960.1,507.3 L961.6,510.6 L962.9,511.4 L964.5,510.8 L965.6,510.0 L967.5,510.9 L969.0,514.8 L971.1,510.7 L972.6,512.6 L973.8,514.8 L975.7,513.5 L977.3,511.4 L979.2,508.4 L981.4,507.9 L983.0,509.4 L984.1,513.4 L985.5,510.9 L986.8,509.3 L988.1,510.9 L989.6,511.4 L991.6,510.2 L993.0,510.0 L994.8,508.9 L996.4,508.6 L997.8,509.7 L999.2,511.4 L1001.3,510.0 L1001.3,527.0 L643.5,527.0 Z" fill="#f3d982"/>
<path d="M643.5,525.2 L645.1,523.8 L647.1,522.8 L649.4,524.0 L651.9,523.5 L654.6,523.2 L656.7,522.8 L659.0,523.2 L661.5,521.8 L663.9,521.1 L665.6,521.9 L667.5,523.5 L669.0,523.6 L671.1,524.2 L673.5,523.9 L675.9,523.5 L678.1,523.2 L680.7,522.8 L682.8,522.4 L685.5,522.8 L687.1,522.4 L689.1,522.3 L691.5,511.5 L693.9,518.7 L696.3,515.1 L698.7,518.7 L701.1,515.1 L703.5,518.7 L705.9,513.9 L707.4,513.5 L709.5,515.1 L711.9,519.9 L713.6,518.8 L715.5,518.7 L717.3,518.8 L719.1,518.7 L721.6,519.0 L723.9,518.7 L726.4,518.9 L728.7,517.5 L730.4,516.6 L732.3,516.3 L734.7,512.7 L736.8,513.5 L738.3,516.3 L740.2,515.5 L741.9,513.9 L743.4,515.9 L745.5,516.3 L747.5,516.0 L749.1,515.1 L751.5,512.7 L753.1,505.5 L755.1,515.1 L757.0,516.3 L758.7,516.3 L760.0,514.1 L761.2,515.2 L762.7,516.2 L764.1,515.7 L765.5,513.4 L767.0,514.8 L768.2,514.8 L770.3,512.1 L772.3,516.8 L773.7,516.2 L775.1,513.4 L776.5,514.9 L777.8,515.5 L779.0,514.3 L780.5,514.8 L781.7,515.8 L783.3,517.5 L784.4,519.3 L786.0,519.6 L787.4,518.5 L788.8,516.8 L790.2,516.5 L791.5,515.5 L792.9,515.3 L794.2,517.5 L795.8,517.7 L797.0,516.8 L798.4,518.0 L799.7,518.9 L801.2,517.3 L802.5,517.5 L804.0,518.3 L805.2,520.3 L806.3,520.5 L807.9,521.6 L809.5,519.5 L810.7,518.9 L812.2,520.6 L813.4,520.3 L814.8,518.2 L816.2,516.8 L817.5,518.7 L818.9,519.6 L820.4,520.5 L821.6,521.0 L823.1,520.3 L824.4,521.0 L825.5,521.1 L827.1,522.3 L828.6,521.2 L829.9,521.0 L831.3,520.8 L832.6,523.0 L834.1,519.8 L836.0,518.2 L837.5,520.5 L838.8,521.6 L840.8,523.0 L842.3,521.5 L843.6,521.0 L844.9,519.8 L846.3,518.9 L847.7,519.5 L849.0,522.3 L850.6,521.4 L851.8,521.6 L854.1,522.3 L855.9,521.6 L857.0,521.9 L858.6,522.3 L860.5,521.5 L862.1,517.5 L863.4,518.3 L864.8,520.3 L866.3,520.1 L868.2,517.5 L869.4,518.0 L871.0,518.2 L872.1,517.2 L873.7,516.2 L875.3,516.6 L876.4,518.9 L878.5,514.8 L880.0,514.1 L881.6,514.8 L882.7,515.5 L884.3,514.1 L885.5,511.4 L886.7,513.8 L888.2,514.1 L889.6,513.6 L891.0,514.8 L892.0,513.7 L893.7,512.7 L895.7,513.0 L897.8,514.1 L899.0,512.0 L900.5,510.7 L901.8,511.7 L903.3,511.4 L904.4,512.2 L906.0,512.1 L907.9,512.2 L909.5,514.1 L911.4,513.9 L912.9,512.7 L914.5,513.3 L915.6,514.8 L917.6,514.9 L919.7,515.5 L921.4,515.0 L922.5,514.1 L924.5,509.3 L926.6,516.2 L928.6,505.9 L930.7,516.2 L932.7,515.0 L934.8,514.1 L936.0,512.0 L937.5,512.1 L939.4,511.3 L941.6,508.6 L942.9,512.9 L944.4,514.1 L946.3,513.7 L948.5,514.1 L950.6,512.4 L952.6,512.1 L954.7,509.3 L956.0,511.4 L957.4,511.4 L959.0,510.3 L960.1,507.3 L961.6,510.6 L962.9,511.4 L964.5,510.8 L965.6,510.0 L967.5,510.9 L969.0,514.8 L971.1,510.7 L972.6,512.6 L973.8,514.8 L975.7,513.5 L977.3,511.4 L979.2,508.4 L981.4,507.9 L983.0,509.4 L984.1,513.4 L985.5,510.9 L986.8,509.3 L988.1,510.9 L989.6,511.4 L991.6,510.2 L993.0,510.0 L994.8,508.9 L996.4,508.6 L997.8,509.7 L999.2,511.4 L1001.3,510.0" fill="none" stroke="#e9c95e" stroke-width="1" stroke-linejoin="round"/>
<path d="M689.1,525.7 L691.5,522.8 L693.1,523.4 L695.1,525.2 L697.3,525.2 L699.9,524.2 L701.7,524.3 L703.5,525.2 L706.1,525.1 L708.3,523.5 L710.7,523.8 L713.1,525.2 L715.3,524.1 L717.9,524.2 L719.6,524.3 L721.5,525.7 L727.3,525.5 L733.5,525.9 L740.7,526.2 L747.9,525.7 L750.4,524.8 L752.7,524.2 L755.0,524.5 L757.5,524.7 L758.7,524.4 L760.0,524.4 L761.8,523.4 L764.1,523.0 L765.8,523.4 L766.8,525.1 L768.2,525.6 L769.6,525.8 L771.9,525.3 L773.7,525.5 L775.6,523.9 L777.8,523.3 L779.8,524.1 L781.9,525.1 L784.9,524.8 L787.4,523.3 L790.4,523.4 L792.9,525.1 L794.7,524.7 L797.0,523.7 L799.3,524.1 L801.1,524.7 L803.2,523.5 L805.2,523.7 L807.2,525.0 L809.3,525.1 L812.3,525.2 L814.8,524.4 L817.1,523.3 L818.9,523.0 L820.0,523.4 L821.6,525.1 L823.4,524.5 L825.1,523.3 L827.0,524.5 L828.5,525.1 L830.0,524.8 L831.2,523.7 L832.6,524.7 L834.0,525.5 L835.8,525.4 L838.1,524.7 L840.0,525.6 L842.2,525.5 L845.0,524.7 L847.7,524.4 L851.6,524.1 L855.9,524.4 L858.0,523.7 L860.0,522.3 L861.8,521.9 L864.1,522.3 L866.2,522.9 L868.2,523.3 L869.6,520.3 L871.6,523.7 L873.7,520.3 L875.0,520.8 L876.4,522.3 L877.9,520.4 L879.2,520.3 L880.0,520.3 L881.9,521.6 L884.1,523.0 L886.4,522.2 L888.2,521.0 L890.5,520.2 L892.3,519.6 L894.2,520.5 L896.4,522.3 L898.8,521.1 L900.5,518.9 L902.5,518.9 L904.7,520.3 L906.0,520.1 L907.4,519.6 L908.7,519.9 L910.1,521.0 L911.5,523.6 L912.6,524.4 L914.2,521.0 L916.8,520.7 L919.7,521.6 L921.7,521.2 L923.8,521.0 L926.0,521.2 L927.9,522.3 L930.2,523.0 L932.1,523.0 L934.1,521.5 L936.2,521.0 L939.2,520.0 L941.6,519.6 L943.9,520.4 L945.8,522.3 L948.3,522.0 L951.2,521.0 L953.2,520.7 L955.3,518.9 L956.7,519.4 L958.1,521.0 L960.0,520.2 L962.2,519.6 L965.0,520.9 L967.7,521.0 L970.2,520.5 L973.2,520.3 L975.0,522.6 L977.3,523.0 L979.1,518.9 L981.4,517.5 L982.5,520.3 L984.1,523.7 L986.1,522.1 L987.5,518.2 L989.4,518.7 L991.0,518.2 L992.6,517.3 L993.7,516.8 L995.2,516.6 L997.1,514.8 L999.2,517.5 L1001.3,515.5 L1001.3,527.0 L689.1,527.0 Z" fill="#c5c5cd"/>
<path d="M689.1,525.7 L691.5,522.8 L693.1,523.4 L695.1,525.2 L697.3,525.2 L699.9,524.2 L701.7,524.3 L703.5,525.2 L706.1,525.1 L708.3,523.5 L710.7,523.8 L713.1,525.2 L715.3,524.1 L717.9,524.2 L719.6,524.3 L721.5,525.7 L727.3,525.5 L733.5,525.9 L740.7,526.2 L747.9,525.7 L750.4,524.8 L752.7,524.2 L755.0,524.5 L757.5,524.7 L758.7,524.4 L760.0,524.4 L761.8,523.4 L764.1,523.0 L765.8,523.4 L766.8,525.1 L768.2,525.6 L769.6,525.8 L771.9,525.3 L773.7,525.5 L775.6,523.9 L777.8,523.3 L779.8,524.1 L781.9,525.1 L784.9,524.8 L787.4,523.3 L790.4,523.4 L792.9,525.1 L794.7,524.7 L797.0,523.7 L799.3,524.1 L801.1,524.7 L803.2,523.5 L805.2,523.7 L807.2,525.0 L809.3,525.1 L812.3,525.2 L814.8,524.4 L817.1,523.3 L818.9,523.0 L820.0,523.4 L821.6,525.1 L823.4,524.5 L825.1,523.3 L827.0,524.5 L828.5,525.1 L830.0,524.8 L831.2,523.7 L832.6,524.7 L834.0,525.5 L835.8,525.4 L838.1,524.7 L840.0,525.6 L842.2,525.5 L845.0,524.7 L847.7,524.4 L851.6,524.1 L855.9,524.4 L858.0,523.7 L860.0,522.3 L861.8,521.9 L864.1,522.3 L866.2,522.9 L868.2,523.3 L869.6,520.3 L871.6,523.7 L873.7,520.3 L875.0,520.8 L876.4,522.3 L877.9,520.4 L879.2,520.3 L880.0,520.3 L881.9,521.6 L884.1,523.0 L886.4,522.2 L888.2,521.0 L890.5,520.2 L892.3,519.6 L894.2,520.5 L896.4,522.3 L898.8,521.1 L900.5,518.9 L902.5,518.9 L904.7,520.3 L906.0,520.1 L907.4,519.6 L908.7,519.9 L910.1,521.0 L911.5,523.6 L912.6,524.4 L914.2,521.0 L916.8,520.7 L919.7,521.6 L921.7,521.2 L923.8,521.0 L926.0,521.2 L927.9,522.3 L930.2,523.0 L932.1,523.0 L934.1,521.5 L936.2,521.0 L939.2,520.0 L941.6,519.6 L943.9,520.4 L945.8,522.3 L948.3,522.0 L951.2,521.0 L953.2,520.7 L955.3,518.9 L956.7,519.4 L958.1,521.0 L960.0,520.2 L962.2,519.6 L965.0,520.9 L967.7,521.0 L970.2,520.5 L973.2,520.3 L975.0,522.6 L977.3,523.0 L979.1,518.9 L981.4,517.5 L982.5,520.3 L984.1,523.7 L986.1,522.1 L987.5,518.2 L989.4,518.7 L991.0,518.2 L992.6,517.3 L993.7,516.8 L995.2,516.6 L997.1,514.8 L999.2,517.5 L1001.3,515.5" fill="none" stroke="#948a80" stroke-width="1.1" stroke-linejoin="round"/>
<path d="M107.8,526.6 L109.2,524.2 L110.8,524.2 L112.2,526.6" fill="#c5c5cd" stroke="#948a80" stroke-width="0.9"/><path d="M136.8,526.6 L138.2,525.4 L139.8,525.4 L141.2,526.6" fill="#c5c5cd" stroke="#948a80" stroke-width="0.9"/><path d="M148.4,526.6 L149.8,525.2 L151.4,525.2 L152.8,526.6" fill="#c5c5cd" stroke="#948a80" stroke-width="0.9"/><path d="M162.4,526.6 L163.8,525.4 L165.4,525.4 L166.8,526.6" fill="#c5c5cd" stroke="#948a80" stroke-width="0.9"/><path d="M186.5,526.6 L187.9,525.4 L189.5,525.4 L190.9,526.6" fill="#c5c5cd" stroke="#948a80" stroke-width="0.9"/><path d="M192.8,526.6 L194.2,525.2 L195.8,525.2 L197.2,526.6" fill="#c5c5cd" stroke="#948a80" stroke-width="0.9"/><path d="M207.8,526.6 L209.2,525.2 L210.8,525.2 L212.2,526.6" fill="#c5c5cd" stroke="#948a80" stroke-width="0.9"/><path d="M212.8,526.6 L214.2,525.0 L215.8,525.0 L217.2,526.6" fill="#c5c5cd" stroke="#948a80" stroke-width="0.9"/><path d="M221.8,526.6 L223.2,524.6 L224.8,524.6 L226.2,526.6" fill="#c5c5cd" stroke="#948a80" stroke-width="0.9"/><path d="M228.4,526.6 L229.8,525.0 L231.4,525.0 L232.8,526.6" fill="#c5c5cd" stroke="#948a80" stroke-width="0.9"/><path d="M240.8,526.6 L242.2,525.4 L243.8,525.4 L245.2,526.6" fill="#c5c5cd" stroke="#948a80" stroke-width="0.9"/><path d="M278.8,526.6 L280.2,525.4 L281.8,525.4 L283.2,526.6" fill="#c5c5cd" stroke="#948a80" stroke-width="0.9"/><path d="M327.8,526.6 L329.2,525.4 L330.8,525.4 L332.2,526.6" fill="#c5c5cd" stroke="#948a80" stroke-width="0.9"/><path d="M369.8,526.6 L371.2,525.6 L372.8,525.6 L374.2,526.6" fill="#c5c5cd" stroke="#948a80" stroke-width="0.9"/><path d="M382.8,526.6 L384.2,525.4 L385.8,525.4 L387.2,526.6" fill="#c5c5cd" stroke="#948a80" stroke-width="0.9"/>
<line x1="50" y1="527.3" x2="1010" y2="527.3" stroke="#dcdce0" stroke-width="1"/>
<!-- annotations -->
<defs>
<linearGradient id="gcn" x1="0" x2="1" y1="0" y2="0"><stop offset="0" stop-color="#b62c36"/><stop offset="0.5" stop-color="#d04a52"/><stop offset="0.82" stop-color="#b42830"/><stop offset="1" stop-color="#a8262e"/></linearGradient>
<linearGradient id="gsh" x1="0" x2="1" y1="0" y2="0"><stop offset="0" stop-color="#000" stop-opacity="0.10"/><stop offset="0.5" stop-color="#fff" stop-opacity="0.10"/><stop offset="0.85" stop-color="#000" stop-opacity="0.10"/><stop offset="1" stop-color="#000" stop-opacity="0.04"/></linearGradient>
</defs><g transform="translate(749,162)"><path d="M0.00,1.50 L1.13,1.50 L2.27,1.50 L3.40,1.50 L4.53,1.50 L5.67,1.50 L6.80,1.50 L7.93,1.50 L9.07,1.50 L10.20,1.50 L11.33,1.50 L12.47,1.40 L13.60,1.11 L14.73,0.73 L15.87,0.36 L17.00,0.09 L18.13,0.00 L19.27,0.00 L20.40,0.00 L21.53,0.00 L22.67,0.00 L23.80,0.00 L24.93,0.00 L26.07,0.00 L27.20,0.00 L27.20,16.80 L26.07,16.72 L24.93,16.51 L23.80,16.26 L22.67,16.03 L21.53,15.91 L20.40,15.93 L19.27,16.04 L18.13,16.22 L17.00,16.45 L15.87,16.71 L14.73,16.99 L13.60,17.26 L12.47,17.50 L11.33,17.71 L10.20,17.84 L9.07,17.90 L7.93,17.90 L6.80,17.90 L5.67,17.90 L4.53,17.90 L3.40,17.90 L2.27,17.90 L1.13,17.90 L0.00,17.90Z" fill="url(#gcn)"/><path d="M4.90,3.50 L5.49,5.19 L7.28,5.23 L5.85,6.31 L6.37,8.02 L4.90,7.00 L3.43,8.02 L3.95,6.31 L2.52,5.23 L4.31,5.19Z" fill="#f6b25e"/><circle cx="9.2" cy="3.2" r="0.6" fill="#e8866a" opacity="0.8"/><circle cx="10.8" cy="5.0" r="0.6" fill="#e8866a" opacity="0.8"/><circle cx="10.8" cy="7.6" r="0.6" fill="#e8866a" opacity="0.8"/><circle cx="9.2" cy="9.4" r="0.6" fill="#e8866a" opacity="0.8"/></g>
<text class="big" x="782.2" y="185.9" font-size="31" stroke-width="1.4" letter-spacing="-1.3" dx="0 0 0 0 0 0 0 0 -2.4 0.4 0.4 0.4 0.4">Chinese Pools</text>
<text class="big" transform="translate(0,251.55) scale(0.6200,0.5811)" x="1374.65 1431.79 1488.94" y="0" font-size="100" stroke-width="4">55%</text>
<g transform="translate(800,394.2)"><path d="M0.00,1.50 L1.16,1.50 L2.32,1.50 L3.48,1.50 L4.63,1.50 L5.79,1.50 L6.95,1.50 L8.11,1.50 L9.27,1.50 L10.43,1.50 L11.58,1.50 L12.74,1.40 L13.90,1.11 L15.06,0.73 L16.22,0.36 L17.38,0.09 L18.53,0.00 L19.69,0.00 L20.85,0.00 L22.01,0.00 L23.17,0.00 L24.32,0.00 L25.48,0.00 L26.64,0.00 L27.80,0.00 L27.80,17.30 L26.64,17.22 L25.48,17.01 L24.32,16.76 L23.17,16.53 L22.01,16.41 L20.85,16.43 L19.69,16.54 L18.53,16.72 L17.38,16.95 L16.22,17.21 L15.06,17.49 L13.90,17.76 L12.74,18.00 L11.58,18.21 L10.43,18.34 L9.27,18.40 L8.11,18.40 L6.95,18.40 L5.79,18.40 L4.63,18.40 L3.48,18.40 L2.32,18.40 L1.16,18.40 L0.00,18.40Z" fill="#f4ddd2"/><path d="M11.12,1.50 L11.82,1.50 L12.51,1.44 L13.21,1.30 L13.90,1.11 L14.60,0.89 L15.29,0.66 L15.99,0.43 L16.68,0.23 L17.38,0.09 L18.07,0.01 L18.77,0.00 L19.46,0.00 L20.16,0.00 L20.85,0.00 L21.55,0.00 L22.24,0.00 L22.93,0.00 L23.63,0.00 L24.32,0.00 L25.02,0.00 L25.72,0.00 L26.41,0.00 L27.11,0.00 L27.80,0.00 L27.80,1.33 L27.11,1.33 L26.41,1.32 L25.72,1.31 L25.02,1.30 L24.32,1.29 L23.63,1.28 L22.93,1.27 L22.24,1.26 L21.55,1.26 L20.85,1.26 L20.16,1.27 L19.46,1.27 L18.77,1.28 L18.07,1.30 L17.38,1.38 L16.68,1.53 L15.99,1.73 L15.29,1.95 L14.60,2.18 L13.90,2.39 L13.21,2.58 L12.51,2.71 L11.82,2.78 L11.12,2.79Z" fill="#d8595c"/><path d="M11.12,4.08 L11.82,4.06 L12.51,3.99 L13.21,3.86 L13.90,3.67 L14.60,3.46 L15.29,3.24 L15.99,3.02 L16.68,2.83 L17.38,2.68 L18.07,2.59 L18.77,2.57 L19.46,2.55 L20.16,2.54 L20.85,2.53 L21.55,2.52 L22.24,2.53 L22.93,2.54 L23.63,2.56 L24.32,2.58 L25.02,2.60 L25.72,2.62 L26.41,2.64 L27.11,2.66 L27.80,2.66 L27.80,3.99 L27.11,3.98 L26.41,3.97 L25.72,3.94 L25.02,3.90 L24.32,3.87 L23.63,3.83 L22.93,3.81 L22.24,3.79 L21.55,3.78 L20.85,3.79 L20.16,3.80 L19.46,3.82 L18.77,3.85 L18.07,3.88 L17.38,3.98 L16.68,4.13 L15.99,4.32 L15.29,4.53 L14.60,4.75 L13.90,4.95 L13.21,5.13 L12.51,5.27 L11.82,5.35 L11.12,5.37Z" fill="#d8595c"/><path d="M11.12,6.66 L11.82,6.63 L12.51,6.55 L13.21,6.41 L13.90,6.23 L14.60,6.03 L15.29,5.82 L15.99,5.61 L16.68,5.43 L17.38,5.27 L18.07,5.18 L18.77,5.13 L19.46,5.10 L20.16,5.07 L20.85,5.05 L21.55,5.05 L22.24,5.05 L22.93,5.08 L23.63,5.11 L24.32,5.16 L25.02,5.20 L25.72,5.25 L26.41,5.29 L27.11,5.31 L27.80,5.32 L27.80,6.65 L27.11,6.64 L26.41,6.61 L25.72,6.56 L25.02,6.50 L24.32,6.45 L23.63,6.39 L22.93,6.35 L22.24,6.32 L21.55,6.31 L20.85,6.32 L20.16,6.34 L19.46,6.37 L18.77,6.41 L18.07,6.47 L17.38,6.57 L16.68,6.72 L15.99,6.91 L15.29,7.11 L14.60,7.32 L13.90,7.51 L13.21,7.69 L12.51,7.83 L11.82,7.91 L11.12,7.95Z" fill="#d8595c"/><path d="M11.12,9.24 L11.82,9.19 L12.51,9.10 L13.21,8.97 L13.90,8.79 L14.60,8.60 L15.29,8.40 L15.99,8.20 L16.68,8.02 L17.38,7.87 L18.07,7.76 L18.77,7.70 L19.46,7.65 L20.16,7.61 L20.85,7.58 L21.55,7.57 L22.24,7.58 L22.93,7.61 L23.63,7.67 L24.32,7.73 L25.02,7.81 L25.72,7.87 L26.41,7.93 L27.11,7.97 L27.80,7.98 L27.80,9.32 L27.11,9.30 L26.41,9.25 L25.72,9.18 L25.02,9.11 L24.32,9.02 L23.63,8.95 L22.93,8.88 L22.24,8.84 L21.55,8.83 L20.85,8.84 L20.16,8.88 L19.46,8.92 L18.77,8.98 L18.07,9.05 L17.38,9.17 L16.68,9.32 L15.99,9.50 L15.29,9.69 L14.60,9.89 L13.90,10.08 L13.21,10.24 L12.51,10.38 L11.82,10.48 L11.12,10.53Z" fill="#d8595c"/><path d="M0.00,11.90 L1.16,11.90 L2.32,11.90 L3.48,11.90 L4.63,11.90 L5.79,11.90 L6.95,11.90 L8.11,11.90 L9.27,11.90 L10.43,11.87 L11.58,11.78 L12.74,11.62 L13.90,11.36 L15.06,11.04 L16.22,10.73 L17.38,10.46 L18.53,10.29 L19.69,10.18 L20.85,10.11 L22.01,10.10 L23.17,10.17 L24.32,10.31 L25.48,10.47 L26.64,10.59 L27.80,10.65 L27.80,11.98 L26.64,11.92 L25.48,11.78 L24.32,11.60 L23.17,11.45 L22.01,11.36 L20.85,11.37 L19.69,11.45 L18.53,11.57 L17.38,11.76 L16.22,12.03 L15.06,12.33 L13.90,12.64 L12.74,12.89 L11.58,13.07 L10.43,13.16 L9.27,13.20 L8.11,13.20 L6.95,13.20 L5.79,13.20 L4.63,13.20 L3.48,13.20 L2.32,13.20 L1.16,13.20 L0.00,13.20Z" fill="#d8595c"/><path d="M0.00,14.50 L1.16,14.50 L2.32,14.50 L3.48,14.50 L4.63,14.50 L5.79,14.50 L6.95,14.50 L8.11,14.50 L9.27,14.50 L10.43,14.46 L11.58,14.35 L12.74,14.17 L13.90,13.92 L15.06,13.62 L16.22,13.32 L17.38,13.06 L18.53,12.86 L19.69,12.72 L20.85,12.63 L22.01,12.62 L23.17,12.72 L24.32,12.89 L25.48,13.08 L26.64,13.24 L27.80,13.31 L27.80,14.64 L26.64,14.57 L25.48,14.39 L24.32,14.18 L23.17,13.99 L22.01,13.88 L20.85,13.90 L19.69,13.99 L18.53,14.14 L17.38,14.35 L16.22,14.62 L15.06,14.91 L13.90,15.20 L12.74,15.45 L11.58,15.64 L10.43,15.75 L9.27,15.80 L8.11,15.80 L6.95,15.80 L5.79,15.80 L4.63,15.80 L3.48,15.80 L2.32,15.80 L1.16,15.80 L0.00,15.80Z" fill="#d8595c"/><path d="M0.00,17.10 L1.16,17.10 L2.32,17.10 L3.48,17.10 L4.63,17.10 L5.79,17.10 L6.95,17.10 L8.11,17.10 L9.27,17.10 L10.43,17.05 L11.58,16.92 L12.74,16.73 L13.90,16.48 L15.06,16.20 L16.22,15.92 L17.38,15.65 L18.53,15.43 L19.69,15.26 L20.85,15.16 L22.01,15.15 L23.17,15.26 L24.32,15.47 L25.48,15.70 L26.64,15.89 L27.80,15.97 L27.80,17.30 L26.64,17.22 L25.48,17.01 L24.32,16.76 L23.17,16.53 L22.01,16.41 L20.85,16.43 L19.69,16.54 L18.53,16.72 L17.38,16.95 L16.22,17.21 L15.06,17.49 L13.90,17.76 L12.74,18.00 L11.58,18.21 L10.43,18.34 L9.27,18.40 L8.11,18.40 L6.95,18.40 L5.79,18.40 L4.63,18.40 L3.48,18.40 L2.32,18.40 L1.16,18.40 L0.00,18.40Z" fill="#d8595c"/><path d="M0.00,1.50 L0.50,1.50 L1.00,1.50 L1.49,1.50 L1.99,1.50 L2.49,1.50 L2.99,1.50 L3.49,1.50 L3.98,1.50 L4.48,1.50 L4.98,1.50 L5.48,1.50 L5.98,1.50 L6.48,1.50 L6.97,1.50 L7.47,1.50 L7.97,1.50 L8.47,1.50 L8.97,1.50 L9.46,1.50 L9.96,1.50 L10.46,1.50 L10.96,1.50 L11.46,1.50 L11.95,1.49 L11.95,10.46 L11.46,10.51 L10.96,10.54 L10.46,10.57 L9.96,10.59 L9.46,10.60 L8.97,10.60 L8.47,10.60 L7.97,10.60 L7.47,10.60 L6.97,10.60 L6.48,10.60 L5.98,10.60 L5.48,10.60 L4.98,10.60 L4.48,10.60 L3.98,10.60 L3.49,10.60 L2.99,10.60 L2.49,10.60 L1.99,10.60 L1.49,10.60 L1.00,10.60 L0.50,10.60 L0.00,10.60Z" fill="#4768a6"/><path d="M0.00,1.50 L1.16,1.50 L2.32,1.50 L3.48,1.50 L4.63,1.50 L5.79,1.50 L6.95,1.50 L8.11,1.50 L9.27,1.50 L10.43,1.50 L11.58,1.50 L12.74,1.40 L13.90,1.11 L15.06,0.73 L16.22,0.36 L17.38,0.09 L18.53,0.00 L19.69,0.00 L20.85,0.00 L22.01,0.00 L23.17,0.00 L24.32,0.00 L25.48,0.00 L26.64,0.00 L27.80,0.00 L27.80,17.30 L26.64,17.22 L25.48,17.01 L24.32,16.76 L23.17,16.53 L22.01,16.41 L20.85,16.43 L19.69,16.54 L18.53,16.72 L17.38,16.95 L16.22,17.21 L15.06,17.49 L13.90,17.76 L12.74,18.00 L11.58,18.21 L10.43,18.34 L9.27,18.40 L8.11,18.40 L6.95,18.40 L5.79,18.40 L4.63,18.40 L3.48,18.40 L2.32,18.40 L1.16,18.40 L0.00,18.40Z" fill="url(#gsh)"/></g>
<text class="big" x="833.6" y="418.9" font-size="31" stroke-width="1.4" letter-spacing="-1.3" dx="0 0 0 0 -2.2 0.35 0.35 0.35 0.35">USA Pools</text>
<text class="big" transform="translate(0,472.16) scale(0.5000,0.4541)" x="1755.80 1813.90 1869.00" y="0" font-size="100" stroke-width="4">40%</text>
<text x="1010" y="564.6" text-anchor="end" font-size="9.4" fill="#8a8a8e" textLength="130" lengthAdjust="spacingAndGlyphs">© CryptoQuant. All rights reserved</text>
</svg>
</body></html>
